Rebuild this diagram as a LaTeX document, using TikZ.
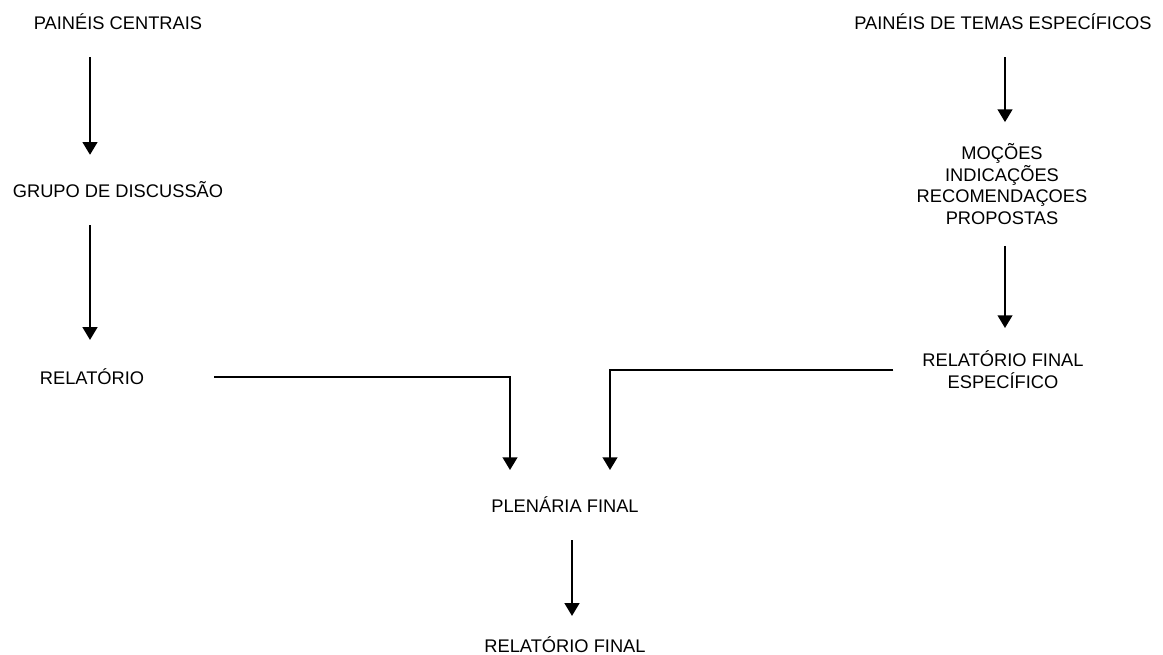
\documentclass[tikz,border=0pt]{standalone}
\usepackage{fontspec}
\setmainfont{Liberation Sans}
\usepackage{tikz}
\usetikzlibrary{arrows.meta}

\tikzset{
    lbl/.style={align=center, inner sep=2pt, font=\fontsize{13}{15.5}\selectfont},
    arr/.style={line width=1.2pt, -{Triangle[width=10.5pt, length=9pt]}}
}

\begin{document}
\begin{tikzpicture}[x=0.025cm, y=-0.025cm]
    \useasboundingbox (0,0) rectangle (1163,655);
    % left column
    \node[lbl] (pc)   at (118,22)  {PAINÉIS CENTRAIS};
    \node[lbl] (gd)   at (118,190) {GRUPO DE DISCUSSÃO};
    \node[lbl] (rel)  at (92,377)  {RELATÓRIO};
    % right column
    \node[lbl] (pte)  at (1003,22)  {PAINÉIS DE TEMAS ESPECÍFICOS};
    \node[lbl] (mic)  at (1002,184) {MOÇÕES\\INDICAÇÕES\\RECOMENDAÇOES\\PROPOSTAS};
    \node[lbl] (rfe)  at (1003,370) {RELATÓRIO FINAL\\ESPECÍFICO};
    % bottom
    \node[lbl] (plen) at (565,505) {PLENÁRIA FINAL};
    \node[lbl] (rf)   at (565,645) {RELATÓRIO FINAL};
    \coordinate (colL) at (90,0);
    \coordinate (colR) at (1005,0);
    \coordinate (colM) at (572,0);
    \coordinate (inL) at (510,470);
    \coordinate (inR) at (610,470);
    \draw[arr, shorten <=0.6cm, shorten >=0.6cm] (pc.south -| colL) -- (gd.north -| colL);
    \draw[arr, shorten <=0.6cm, shorten >=0.65cm] (gd.south -| colL) -- (rel.north -| colL);
    \draw[arr, shorten <=0.6cm, shorten >=0.45cm] (pte.south -| colR) -- (mic.north -| colR);
    \draw[arr, shorten <=0.45cm, shorten >=0.5cm] (mic.south -| colR) -- (rfe.north -| colR);
    \draw[arr, shorten <=1.68cm] (rel.east) -| (inL);
    \draw[arr, shorten <=0.65cm] (rfe.west) -| (inR);
    \draw[arr, shorten <=0.6cm, shorten >=0.45cm] (plen.south -| colM) -- (rf.north -| colM);
\end{tikzpicture}
\end{document}
